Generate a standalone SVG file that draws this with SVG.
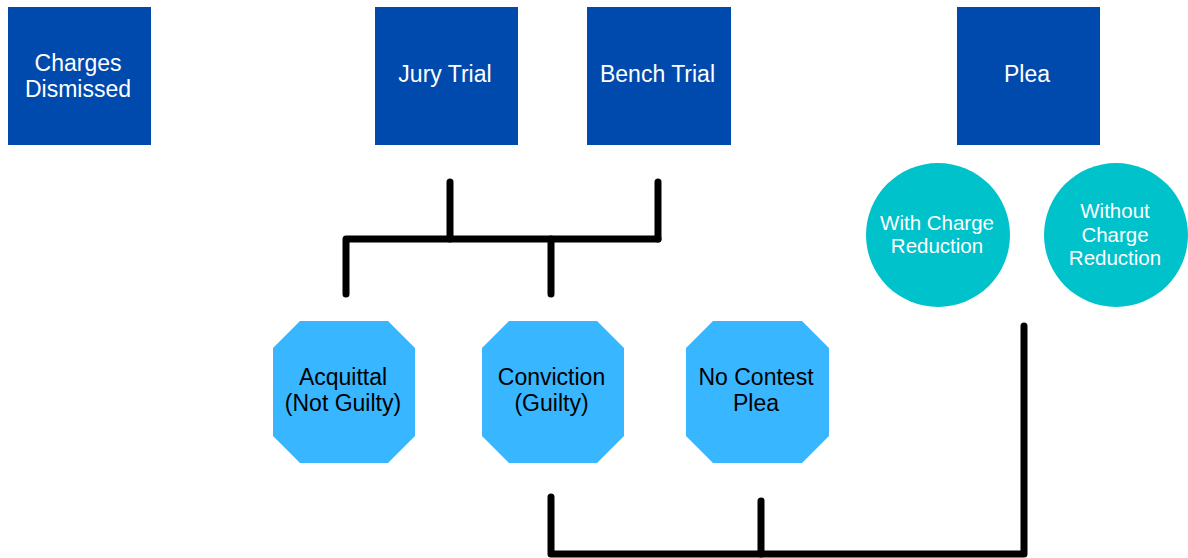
<svg xmlns="http://www.w3.org/2000/svg" width="1188" height="558" viewBox="0 0 1188 558">
<style>
.box{fill:#004AAD}
.oct{fill:#38B6FF}
.circ{fill:#00C2CB}
.t{font-family:"Liberation Sans",Arial,sans-serif;font-size:23px;text-anchor:middle}
.w{fill:#FFFFFF}
.k{fill:#000000}
.cs{font-size:20.5px}
.conn path{fill:none;stroke:#000;stroke-width:7;stroke-linecap:round;stroke-linejoin:round}
</style>
<rect width="1188" height="558" fill="#FFFFFF"/>
<g id="charges-dismissed">
<rect class="box" x="8" y="7" width="143" height="138"/>
<text class="t w" x="78" y="71">Charges</text>
<text class="t w" x="78" y="97">Dismissed</text>
</g>
<g id="jury-trial">
<rect class="box" x="375" y="7" width="143" height="138"/>
<text class="t w" x="445" y="82">Jury Trial</text>
</g>
<g id="bench-trial">
<rect class="box" x="587" y="7" width="144" height="138"/>
<text class="t w" x="657.5" y="82">Bench Trial</text>
</g>
<g id="plea">
<rect class="box" x="957" y="7" width="143" height="138"/>
<text class="t w" x="1027" y="82">Plea</text>
</g>
<g id="with-charge-reduction">
<circle class="circ" cx="938" cy="235" r="72"/>
<text class="t w cs" x="937" y="230">With Charge</text>
<text class="t w cs" x="937" y="253">Reduction</text>
</g>
<g id="without-charge-reduction">
<circle class="circ" cx="1116" cy="235" r="72"/>
<text class="t w cs" x="1115" y="218">Without</text>
<text class="t w cs" x="1115" y="241.5">Charge</text>
<text class="t w cs" x="1115" y="265">Reduction</text>
</g>
<g id="acquittal">
<polygon class="oct" points="300,321 388,321 415,348 415,436 388,463 300,463 273,436 273,348"/>
<text class="t k" x="343" y="385">Acquittal</text>
<text class="t k" x="343" y="411">(Not Guilty)</text>
</g>
<g id="conviction">
<polygon class="oct" points="509,321 597,321 624,348 624,436 597,463 509,463 482,436 482,348"/>
<text class="t k" x="551.5" y="385">Conviction</text>
<text class="t k" x="551.5" y="411">(Guilty)</text>
</g>
<g id="no-contest-plea">
<polygon class="oct" points="713,321 802,321 829,348 829,436 802,463 713,463 686,436 686,348"/>
<text class="t k" x="756" y="385">No Contest</text>
<text class="t k" x="756" y="411">Plea</text>
</g>
<g id="connectors" class="conn">
<path d="M450,182 V239"/>
<path d="M658,182 V239"/>
<path d="M346,294 V239 H658"/>
<path d="M551,239 V294"/>
<path d="M551,497 V554 H1024 V326"/>
<path d="M761,501 V554"/>
</g>
</svg>
